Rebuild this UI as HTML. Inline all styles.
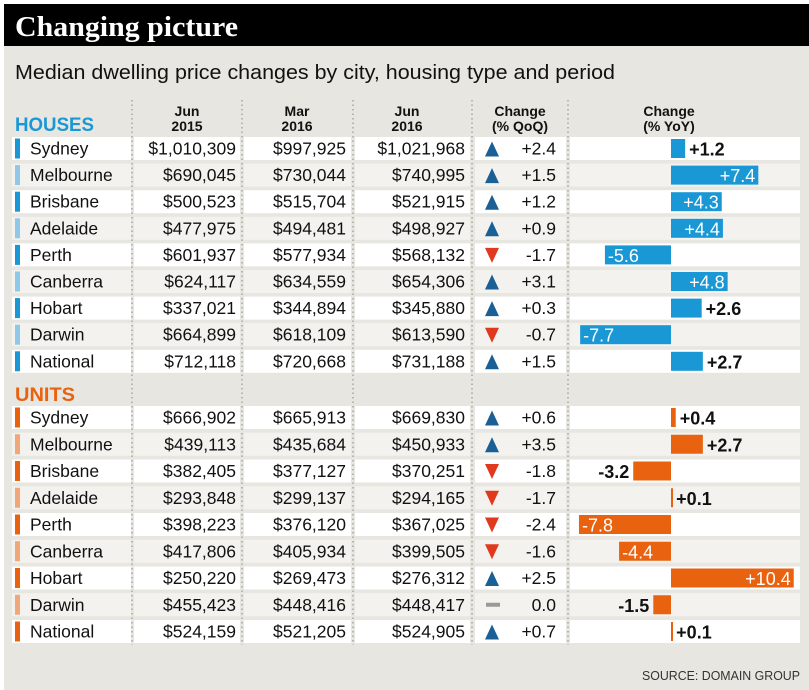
<!DOCTYPE html>
<html><head><meta charset="utf-8"><style>
body{margin:0;background:#fff}
svg{display:block;font-family:"Liberation Sans",sans-serif}
</style></head><body>
<svg id="c" width="809" height="690">
<rect x="0" y="0" width="809" height="690" fill="#fff"/>
<rect x="4" y="46" width="805" height="644" fill="#e8e6e0"/>
<rect x="4" y="4" width="805" height="42" fill="#000"/>
<text x="15" y="36" fill="#fff" font-family="Liberation Serif,serif" font-weight="bold" font-size="29" textLength="223" lengthAdjust="spacingAndGlyphs">Changing picture</text>
<text x="15" y="79" fill="#111" font-size="20" textLength="600" lengthAdjust="spacingAndGlyphs">Median dwelling price changes by city, housing type and period</text>
<text x="15" y="131" fill="#1a98d5" font-weight="bold" font-size="19" textLength="79" lengthAdjust="spacingAndGlyphs">HOUSES</text>
<text x="15" y="401" fill="#e8620f" font-weight="bold" font-size="19" textLength="60" lengthAdjust="spacingAndGlyphs">UNITS</text>
<text x="800" y="680" fill="#333" font-size="12.5" text-anchor="end" textLength="158" lengthAdjust="spacingAndGlyphs">SOURCE: DOMAIN GROUP</text>
<g id="g"></g>
</svg>
<script>
const cities=["Sydney","Melbourne","Brisbane","Adelaide","Perth","Canberra","Hobart","Darwin","National"];
const housesJun15=["$1,010,309","$690,045","$500,523","$477,975","$601,937","$624,117","$337,021","$664,899","$712,118"];
const housesMar16=["$997,925","$730,044","$515,704","$494,481","$577,934","$634,559","$344,894","$618,109","$720,668"];
const housesJun16=["$1,021,968","$740,995","$521,915","$498,927","$568,132","$654,306","$345,880","$613,590","$731,188"];
const housesQoQ=[2.4,1.5,1.2,0.9,-1.7,3.1,0.3,-0.7,1.5];
const housesYoY=[1.2,7.4,4.3,4.4,-5.6,4.8,2.6,-7.7,2.7];
const unitsJun15=["$666,902","$439,113","$382,405","$293,848","$398,223","$417,806","$250,220","$455,423","$524,159"];
const unitsMar16=["$665,913","$435,684","$377,127","$299,137","$376,120","$405,934","$269,473","$448,416","$521,205"];
const unitsJun16=["$669,830","$450,933","$370,251","$294,165","$367,025","$399,505","$276,312","$448,417","$524,905"];
const unitsQoQ=[0.6,3.5,-1.8,-1.7,-2.4,-1.6,2.5,0.0,0.7];
const unitsYoY=[0.4,2.7,-3.2,0.1,-7.8,-4.4,10.4,-1.5,0.1];
const headers=[["Jun","2015"],["Mar","2016"],["Jun","2016"],["Change","(% QoQ)"],["Change","(% YoY)"]];

const NS="http://www.w3.org/2000/svg",g=document.getElementById('g');
function el(t,a,txt){const e=document.createElementNS(NS,t);for(const k in a)e.setAttribute(k,a[k]);if(txt!==undefined)e.textContent=txt;g.appendChild(e);return e;}
const zeroX=671, pxPer=11.8;
const xScale=v=>zeroX+v*pxPer;
const fmt=v=>(v>0?"+":"")+v.toFixed(1);
const cells=[[12,131],[134,240],[244,351],[355,470],[475,566],[570,800]];
// headers
const hx=[187,297,407,520,669];
headers.forEach((h,i)=>{
 const t1=el('text',{x:hx[i],y:116,'text-anchor':'middle','font-size':14,'font-weight':'bold',fill:'#111'},h[0]);
 
 
 const t2=el('text',{x:hx[i],y:131,'text-anchor':'middle','font-size':14,'font-weight':'bold',fill:'#111'},h[1]);
 
 
});
// separators
[132,242,353,472,568].forEach(x=>{
 const l=el('line',{x1:x,y1:100,x2:x,y2:645,stroke:'#a8a6a0','stroke-width':1.5,'stroke-dasharray':'1.5 3'});
 
 
});
function section(top,pitch,a,b,c,q,y,barCol,stripCols,prefix){
 cities.forEach((city,i)=>{
  const t=top+i*pitch, cy=t+11.5;
  const bg=i%2===0?'#ffffff':'#f3f2ee';
  cells.forEach(cc=>{const r=el('rect',{x:cc[0],y:t,width:cc[1]-cc[0],height:23,fill:bg});
   
   });
  const s=el('rect',{x:15,y:t+1.5,width:5,height:20,fill:stripCols[i%2]});
  
  
  const ct=el('text',{x:30,y:cy+6,'font-size':17.5,fill:'#111'},city);
  
  
  [[a,236],[b,346],[c,465]].forEach(([arr,x])=>{
   const v=el('text',{x:x,y:cy+6,'font-size':17.5,'text-anchor':'end',fill:'#111'},arr[i]);
   
   
  });
  const qv=q[i];
  let ic;
  if(qv>0) ic=el('polygon',{points:`${485},${cy+8} ${499},${cy+8} ${492},${cy-7}`,fill:'#1a5f96'});
  else if(qv<0) ic=el('polygon',{points:`${485},${cy-7} ${499},${cy-7} ${492},${cy+8}`,fill:'#e03a1e'});
  else ic=el('rect',{x:486,y:cy-2,width:14,height:4,fill:'#999'});
  
  
  const qt=el('text',{x:556,y:cy+6,'font-size':17.5,'text-anchor':'end',fill:'#111'},qv===0?"0.0":fmt(qv));
  
  
  const v=y[i], x0=Math.min(xScale(0),xScale(v)), w=Math.max(Math.abs(xScale(v)-xScale(0)),2);
  const bar=el('rect',{x:x0,y:t+2,width:w,height:19,fill:barCol});
  
  
  let lab;
  const inside=Math.abs(v)>4;
  if(v>=0){
   lab=inside?el('text',{x:xScale(v)-3,y:cy+7,'text-anchor':'end','font-size':18,fill:'#fff'},fmt(v))
            :el('text',{x:xScale(v)+4,y:cy+7,'font-size':18,'font-weight':'bold',fill:'#111'},fmt(v));
  }else{
   lab=inside?el('text',{x:xScale(v)+3,y:cy+7,'font-size':18,fill:'#fff'},fmt(v))
            :el('text',{x:xScale(v)-4,y:cy+7,'text-anchor':'end','font-size':18,'font-weight':'bold',fill:'#111'},fmt(v));
  }
  
  
 });
}
section(137,26.6,housesJun15,housesMar16,housesJun16,housesQoQ,housesYoY,'#1a98d5',['#1a98d5','#8fc8e8'],'houses');
section(406,26.75,unitsJun15,unitsMar16,unitsJun16,unitsQoQ,unitsYoY,'#e8620f',['#e8620f','#f0a87a'],'units');
</script>
</body></html>
